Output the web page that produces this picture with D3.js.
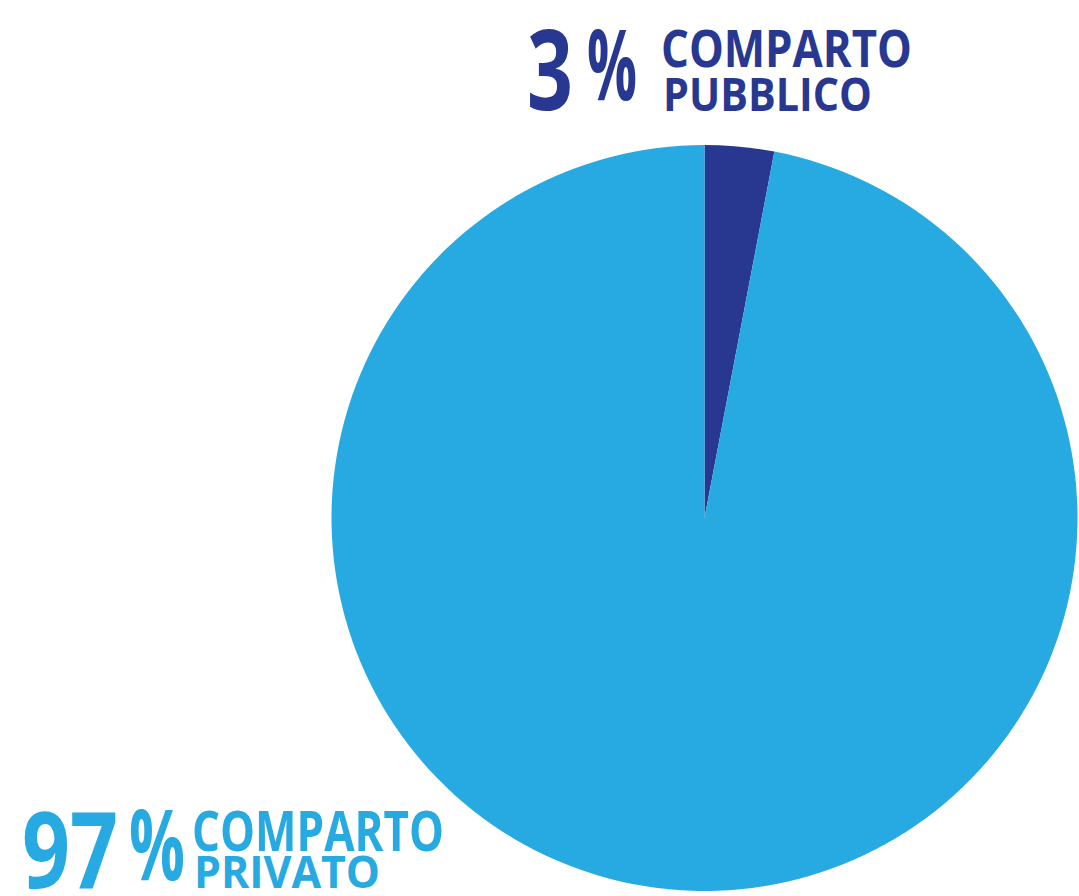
<!DOCTYPE html>
<html lang="it">
<head>
<meta charset="UTF-8">
<title>Comparto</title>
<script src="https://d3js.org/d3.v7.min.js"></script>
<style>
  body { margin: 0; background: #fff; }
  text { font-family: "Open Sans", "Noto Sans", sans-serif; font-weight: bold; }
</style>
</head>
<body>
<script>
    // data
    var categories = ["COMPARTO PUBBLICO", "COMPARTO PRIVATO"];
    var values = [3, 97];
    var labelLines = [["COMPARTO", "PUBBLICO"], ["COMPARTO", "PRIVATO"]];

    var W = 1079, H = 896;
    var cx = 704.5, cy = 518, radius = 373;

    var color = d3.scaleOrdinal()
        .domain(categories)
        .range(["#283891", "#27a9e1"]);

    var svg = d3.select('body')
        .append('svg')
        .attr('width', W)
        .attr('height', H);

    var pie = d3.pie()
        .sort(null)
        .value(function (d) { return d; });

    var arc = d3.arc()
        .innerRadius(0)
        .outerRadius(radius);

    var g = svg.append('g')
        .attr('transform', 'translate(' + cx + ',' + cy + ')');

    g.selectAll('path')
        .data(pie(values))
        .enter()
        .append('path')
        .attr('d', arc)
        .attr('fill', function (d, i) { return color(categories[i]); });

    // labels: big number, percent sign, two lines of text
    var labelPos = [
        { numX: 527, numW: 46, numSize: 112, pctX: 587, pctW: 50, pctBase: 100, base: 110,
          txtX: 661, line1: 67, w1: 251, line2: 111, w2: 209, size1: 52, size2: 47 },
        { numX: 22,  numW: 96, numSize: 106, pctX: 129, pctW: 56, pctBase: 880, base: 888,
          txtX: 192, line1: 851, w1: 252, line2: 888, w2: 186, size1: 55, size2: 45 }
    ];

    labelPos.forEach(function (p, i) {
        var c = color(categories[i]);
        var lg = svg.append('g').attr('fill', c);

        lg.append('text')
            .attr('x', p.numX)
            .attr('y', p.base)
            .attr('font-size', p.numSize)
            .attr('textLength', p.numW)
            .attr('lengthAdjust', 'spacingAndGlyphs')
            .text(values[i]);

        lg.append('text')
            .attr('x', p.pctX)
            .attr('y', p.pctBase)
            .attr('font-size', 98)
            .attr('textLength', p.pctW)
            .attr('lengthAdjust', 'spacingAndGlyphs')
            .text('%');

        lg.append('text')
            .attr('x', p.txtX)
            .attr('y', p.line1)
            .attr('font-size', p.size1)
            .attr('textLength', p.w1)
            .attr('lengthAdjust', 'spacingAndGlyphs')
            .text(labelLines[i][0]);

        lg.append('text')
            .attr('x', p.txtX + 2)
            .attr('y', p.line2)
            .attr('font-size', p.size2)
            .attr('textLength', p.w2)
            .attr('lengthAdjust', 'spacingAndGlyphs')
            .text(labelLines[i][1]);
    });
</script>
</body>
</html>
